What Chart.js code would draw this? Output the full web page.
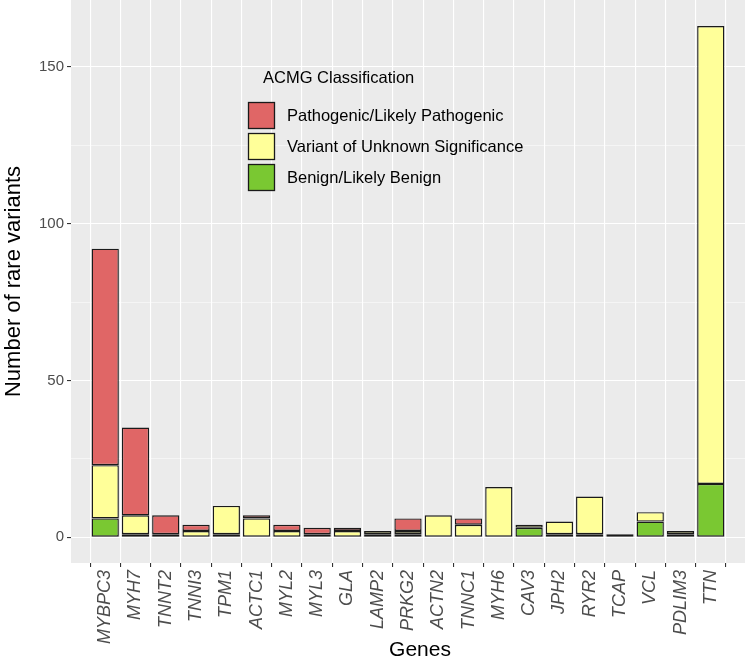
<!DOCTYPE html>
<html>
<head>
<meta charset="utf-8">
<script src="https://cdn.jsdelivr.net/npm/chart.js@4"></script>
<style>
  body { margin: 0; background: #fff; }
  #wrap { width: 745px; height: 665px; }
</style>
</head>
<body>
<div id="wrap"><canvas id="acmgChart" width="745" height="665"></canvas></div>
<script>
const genes = ['MYBPC3', 'MYH7', 'TNNT2', 'TNNI3', 'TPM1', 'ACTC1', 'MYL2', 'MYL3', 'GLA', 'LAMP2',
    'PRKG2', 'ACTN2', 'TNNC1', 'MYH6', 'CAV3', 'JPH2', 'RYR2', 'TCAP', 'VCL', 'PDLIM3', 'TTN'];
const benign     = [6, 1, 0, 0, 1, 0, 0, 0, 0, 1, 1, 0, 0, 0, 3, 1, 1, 0, 5, 1, 17];
const uncertain  = [17, 6, 1, 2, 9, 6, 2, 1, 2, 1, 1, 7, 4, 16, 1, 4, 12, 1, 3, 1, 146];
const pathogenic = [69, 28, 6, 2, 0, 1, 2, 2, 1, 0, 4, 0, 2, 0, 0, 0, 0, 0, 0, 0, 0];
const yTicks = [0, 25, 50, 75, 100, 125, 150];
const yLabelled = [0, 50, 100, 150];

const seriesNames = ['Pathogenic/Likely Pathogenic', 'Variant of Unknown Significance', 'Benign/Likely Benign'];
const colors = {
    path: '#E06666',
    vus: '#FFFF99',
    benign: '#7AC832'
};

Chart.defaults.font.family = '"Liberation Sans", Arial, sans-serif';

// zero counts are simply not drawn (no empty outlined box)
const toPoints = arr => arr.map((v, i) => ({ x: i, y: v === 0 ? null : v }));

const barStyle = {
    borderColor: '#1a1a1a',
    borderWidth: 1.4,
    borderSkipped: false,
    barPercentage: 0.9,
    categoryPercentage: 1.0
};

const data = {
    datasets: [
        { label: seriesNames[2], data: toPoints(benign), backgroundColor: colors.benign, ...barStyle },
        { label: seriesNames[1], data: toPoints(uncertain), backgroundColor: colors.vus, ...barStyle },
        { label: seriesNames[0], data: toPoints(pathogenic), backgroundColor: colors.path, ...barStyle }
    ]
};

// grey panel like ggplot
const panelBg = {
    id: 'panelBg',
    beforeDraw(chart) {
        const { ctx, chartArea: a } = chart;
        ctx.save();
        ctx.fillStyle = '#EBEBEB';
        ctx.fillRect(a.left, a.top, a.right - a.left, a.bottom - a.top);
        ctx.restore();
    }
};

// legend inside the panel + x title
const insideLegend = {
    id: 'insideLegend',
    afterDraw(chart) {
        const ctx = chart.ctx;
        ctx.save();
        ctx.fillStyle = '#000';
        ctx.font = '16.5px "Liberation Sans", Arial, sans-serif';
        ctx.textAlign = 'left';
        ctx.textBaseline = 'alphabetic';
        ctx.fillText('ACMG Classification', 263, 83);

        const keys = [colors.path, colors.vus, colors.benign];
        keys.forEach((c, i) => {
            const y = 102 + i * 31;
            ctx.fillStyle = c;
            ctx.fillRect(248, y, 27, 27);
            ctx.strokeStyle = '#1a1a1a';
            ctx.lineWidth = 1.3;
            ctx.strokeRect(248.5, y + 0.5, 26, 26);
            ctx.fillStyle = '#000';
            ctx.textBaseline = 'middle';
            ctx.fillText(seriesNames[i], 287, y + 14);
        });

        ctx.font = '21px "Liberation Sans", Arial, sans-serif';
        ctx.textAlign = 'center';
        ctx.textBaseline = 'alphabetic';
        ctx.fillText('Genes', 420, 656);
        ctx.restore();
    }
};

const config = {
    type: 'bar',
    data: data,
    options: {
        responsive: false,
        animation: false,
        layout: { padding: 0 },
        plugins: {
            legend: { display: false },
            tooltip: { enabled: false }
        },
        scales: {
            x: {
                type: 'linear',
                stacked: true,
                min: -0.6,
                max: 20.6,
                afterBuildTicks: s => { s.ticks = genes.map((g, i) => ({ value: i })); },
                afterFit: s => { s.height = 102; s.paddingLeft = 0; s.paddingRight = 0; },
                border: { display: false },
                grid: {
                    color: '#fff',
                    lineWidth: 1.1,
                    tickColor: '#333',
                    tickLength: 4
                },
                ticks: {
                    autoSkip: false,
                    minRotation: 90,
                    maxRotation: 90,
                    padding: 3,
                    color: '#4D4D4D',
                    font: { size: 18, style: 'italic' },
                    callback: v => genes[v]
                }
            },
            y: {
                stacked: true,
                min: -8.2,
                max: 171.3,
                afterBuildTicks: s => { s.ticks = yTicks.map(v => ({ value: v })); },
                afterFit: s => { s.width = 71; s.paddingTop = 0; s.paddingBottom = 0; },
                border: { display: false },
                grid: {
                    color: '#fff',
                    lineWidth: c => yLabelled.includes(c.tick.value) ? 1.1 : 0.5,
                    tickColor: c => yLabelled.includes(c.tick.value) ? '#333' : 'rgba(0,0,0,0)',
                    tickLength: 4
                },
                ticks: {
                    padding: 3,
                    color: '#4D4D4D',
                    font: { size: 15 },
                    callback: v => yLabelled.includes(v) ? v : ''
                },
                title: {
                    display: true,
                    text: 'Number of rare variants',
                    color: '#000',
                    font: { size: 22 },
                    padding: { top: 1, bottom: 0 }
                }
            }
        }
    },
    plugins: [panelBg, insideLegend]
};

const ctxAcmg = document.getElementById('acmgChart').getContext('2d');
const acmgChart = new Chart(ctxAcmg, config);
</script>
</body>
</html>
